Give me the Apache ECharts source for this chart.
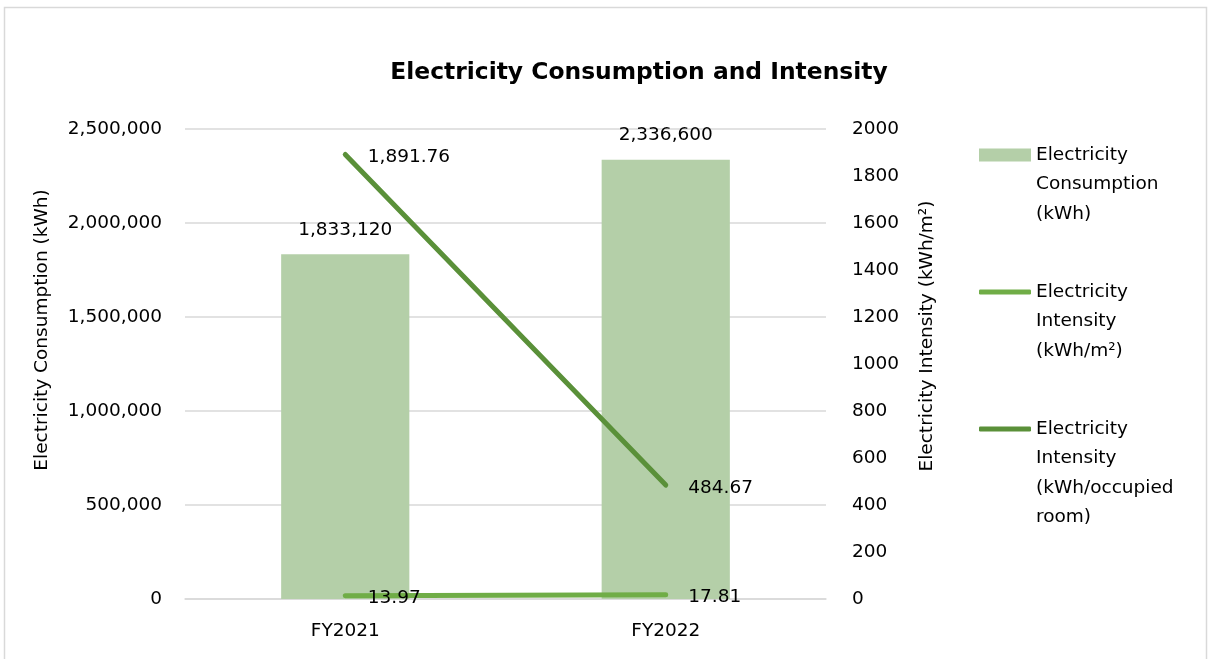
<!DOCTYPE html>
<html>
<head>
<meta charset="utf-8">
<script src="https://cdn.jsdelivr.net/npm/echarts@6/dist/echarts.min.js"></script>
<style>
html,body{margin:0;padding:0;background:#fff;}
#c{width:1208px;height:659px;}
</style>
</head>
<body>
<div id="c"></div>
<script>
const categories = ['FY2021', 'FY2022'];
const consumption = [1833120, 2336600];
const intensityArea = [13.97, 17.81];
const intensityRoom = [1891.76, 484.67];
const seriesNames = [
  'Electricity Consumption (kWh)',
  'Electricity Intensity (kWh/m²)',
  'Electricity Intensity (kWh/occupied room)'
];
const legendLines = [
  ['Electricity', 'Consumption', '(kWh)'],
  ['Electricity', 'Intensity', '(kWh/m²)'],
  ['Electricity', 'Intensity', '(kWh/occupied', 'room)']
];
const FONT = 'DejaVu Sans';
const FS = 18.5;
const TXT = '#000000';
const LH = 29.5;

const fmtInt = v => Number(v).toLocaleString('en-US');
const fmt2 = v => Number(v).toLocaleString('en-US', {minimumFractionDigits: 2, maximumFractionDigits: 2});

const chart = echarts.init(document.getElementById('c'));

function mkLegend(i, iconCenter, icon, itemHeight) {
  const lines = legendLines[i];
  const blanks = lines.length - 1;
  const total = (lines.length + blanks) * LH;
  return {
    data: [{name: seriesNames[i], icon: icon}],
    orient: 'vertical',
    left: 979,
    top: iconCenter - total / 2,
    padding: 0,
    itemWidth: 52,
    itemHeight: itemHeight,
    selectedMode: false,
    formatter: () => '\n'.repeat(blanks) + lines.join('\n'),
    textStyle: {fontFamily: FONT, fontSize: FS, color: TXT, lineHeight: LH}
  };
}

const option = {
  animation: false,
  backgroundColor: '#ffffff',
  title: {
    text: 'Electricity Consumption and Intensity',
    left: 634,
    top: 56,
    textAlign: 'center',
    textStyle: {fontFamily: FONT, fontSize: 23.4, fontWeight: 'bold', color: TXT}
  },
  graphic: [
    {type: 'rect', shape: {x: 4.5, y: 7.5, width: 1202, height: 720}, style: {fill: 'none', stroke: '#D9D9D9', lineWidth: 1.5}, silent: true},
    {type: 'text', x: 42, y: 330, rotation: Math.PI / 2,
      style: {text: 'Electricity Consumption (kWh)', fontFamily: FONT, fontSize: FS, fill: TXT, align: 'center', verticalAlign: 'middle'}},
    {type: 'text', x: 927, y: 336, rotation: Math.PI / 2,
      style: {text: 'Electricity Intensity (kWh/m²)', fontFamily: FONT, fontSize: FS, fill: TXT, align: 'center', verticalAlign: 'middle'}}
  ],
  legend: [
    mkLegend(0, 155, 'rect', 13),
    mkLegend(1, 292, 'roundRect', 5),
    mkLegend(2, 429, 'roundRect', 5)
  ],
  grid: {left: 185, right: 382, top: 129, bottom: 60, containLabel: false},
  xAxis: {
    type: 'category',
    data: categories,
    axisLine: {lineStyle: {color: '#D9D9D9', width: 1.5}},
    axisTick: {show: false},
    axisLabel: {fontFamily: FONT, fontSize: FS, color: TXT, margin: 23}
  },
  yAxis: [
    {
      type: 'value', min: 0, max: 2500000, interval: 500000,
      axisLine: {show: false}, axisTick: {show: false},
      splitLine: {lineStyle: {color: '#D9D9D9', width: 1.5}},
      axisLabel: {fontFamily: FONT, fontSize: FS, color: TXT, margin: 23, formatter: v => fmtInt(v)}
    },
    {
      type: 'value', min: 0, max: 2000, interval: 200,
      axisLine: {show: false}, axisTick: {show: false},
      splitLine: {show: false},
      axisLabel: {fontFamily: FONT, fontSize: FS, color: TXT, margin: 26, formatter: v => String(v)}
    }
  ],
  series: [
    {
      name: seriesNames[0], type: 'bar', yAxisIndex: 0, data: consumption,
      barWidth: '40%',
      itemStyle: {color: '#B4CFA8'},
      label: {show: true, position: 'top', distance: 15, fontFamily: FONT, fontSize: FS, color: TXT, formatter: p => fmtInt(p.value)}
    },
    {
      name: seriesNames[1], type: 'line', yAxisIndex: 1, data: intensityArea,
      symbol: 'circle', symbolSize: 1, showSymbol: true, z: 3,
      lineStyle: {color: '#70AD47', width: 5, cap: 'round'},
      itemStyle: {color: '#70AD47'},
      label: {show: true, position: 'right', distance: 22, offset: [0, 2], fontFamily: FONT, fontSize: FS, color: TXT, formatter: p => fmt2(p.value)}
    },
    {
      name: seriesNames[2], type: 'line', yAxisIndex: 1, data: intensityRoom,
      symbol: 'circle', symbolSize: 1, showSymbol: true, z: 4,
      lineStyle: {color: '#5A9039', width: 5, cap: 'round'},
      itemStyle: {color: '#5A9039'},
      label: {show: true, position: 'right', distance: 22, offset: [0, 3], fontFamily: FONT, fontSize: FS, color: TXT, formatter: p => fmt2(p.value)}
    }
  ]
};
chart.setOption(option);
</script>
</body>
</html>
